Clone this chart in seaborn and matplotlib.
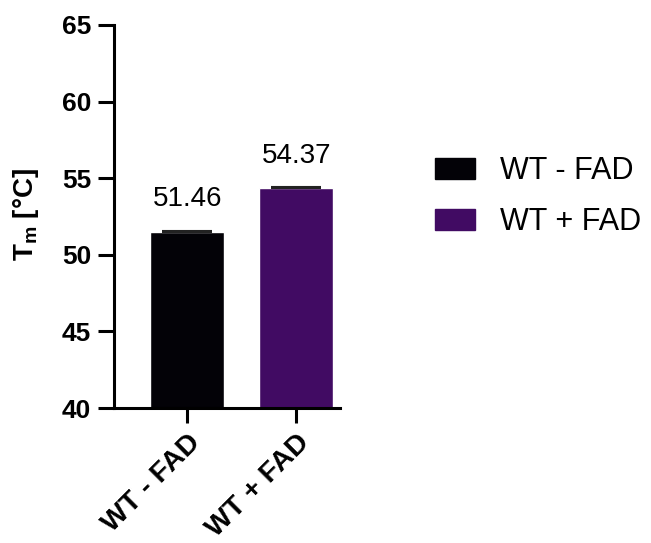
import matplotlib
matplotlib.use("Agg")
import matplotlib.pyplot as plt
import seaborn as sns
import pandas as pd
from matplotlib.patches import Patch

groups = ["WT - FAD", "WT + FAD"]
tm_mean = [51.46, 54.37]
tm_err = [0.12, 0.04]
colors = ["#030207", "#410b63"]
y_ticks = [40, 45, 50, 55, 60, 65]

sns.set_theme(style="ticks")
plt.rcParams["font.family"] = ["Liberation Sans", "DejaVu Sans"]
plt.rcParams["mathtext.fontset"] = "custom"
plt.rcParams["mathtext.rm"] = "Liberation Sans"
plt.rcParams["mathtext.bf"] = "Liberation Sans:bold"
plt.rcParams["text.color"] = "black"
plt.rcParams["axes.labelcolor"] = "black"
plt.rcParams["xtick.color"] = "black"
plt.rcParams["ytick.color"] = "black"

df = pd.DataFrame({"group": groups, "tm": tm_mean})

fig = plt.figure(figsize=(6.51, 5.43), dpi=100)
ax = fig.add_axes([0.1751, 0.2486, 0.3472, 0.7054])

sns.barplot(data=df, x="group", y="tm", hue="group", palette=colors,
            width=0.68, legend=False, ax=ax, errorbar=None, saturation=1)

# one-sided (upper) error bars
ax.errorbar(range(len(groups)), tm_mean, yerr=[[0] * len(groups), tm_err],
            fmt="none", ecolor="#222222", elinewidth=1.5, capsize=18,
            capthick=1.5, zorder=3)

for i, v in enumerate(tm_mean):
    ax.annotate(f"{v:.2f}", (i, v + tm_err[i]), xytext=(0, 17.5),
                textcoords="offset points", ha="center", va="baseline",
                fontsize=20, color="black")

ax.set_ylim(40, 65)
ax.set_xlim(-0.67, 1.40)
ax.set_yticks(y_ticks)
ax.set_yticklabels([str(t) for t in y_ticks], fontsize=19, fontweight="bold")
ax.set_xticks(range(len(groups)))
ax.set_xticklabels(groups, rotation=45, ha="right", rotation_mode="anchor",
                   fontsize=20.5, fontweight="bold")
ax.set_xlabel("")
ax.set_ylabel(r"$\mathbf{T_m}$ [°C]", fontsize=20, fontweight="bold")
ax.yaxis.set_label_coords(-0.323, 0.504)

for s in ["top", "right"]:
    ax.spines[s].set_visible(False)
for s in ["left", "bottom"]:
    ax.spines[s].set_linewidth(2.2)
    ax.spines[s].set_color("black")
ax.tick_params(axis="y", which="major", length=11.5, width=2.2,
               direction="out", pad=5)
ax.tick_params(axis="x", which="major", length=10.5, width=2.2,
               direction="out", pad=5)

handles = [Patch(facecolor=c, edgecolor=c) for c in colors]
fig.legend(handles, groups, loc="upper left", bbox_to_anchor=(0.668, 0.712),
           frameon=False, fontsize=22, handlelength=1.3, handleheight=0.66,
           labelspacing=0.68, handletextpad=0.82, borderpad=0,
           borderaxespad=0)

fig.savefig("out.png", dpi=100)
